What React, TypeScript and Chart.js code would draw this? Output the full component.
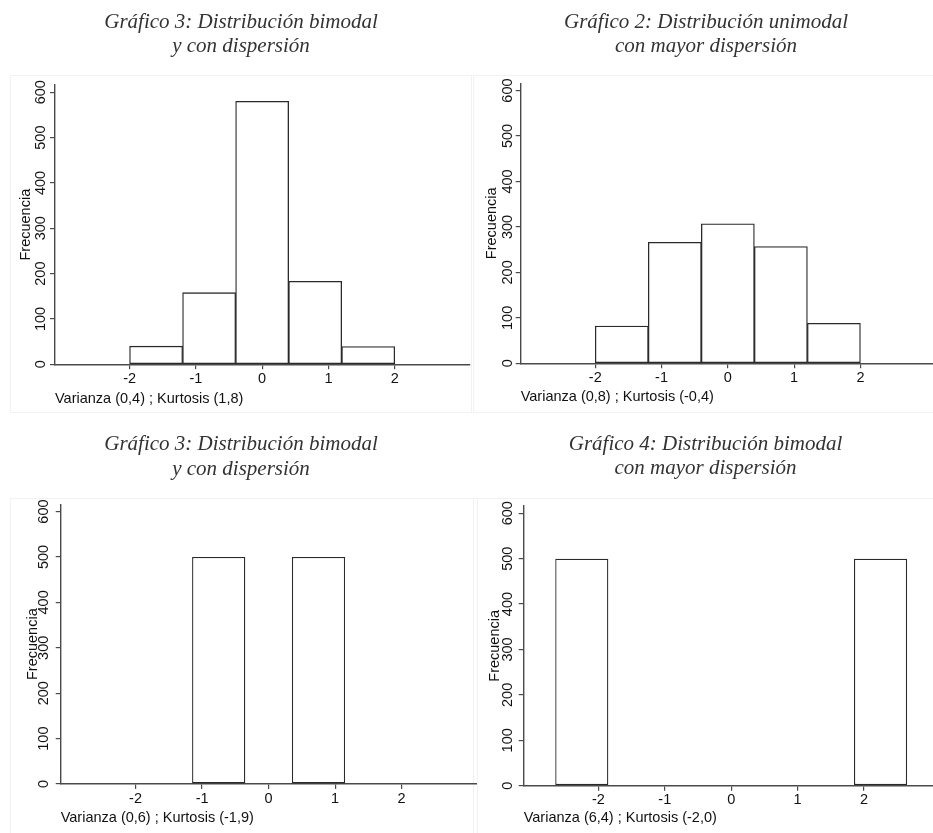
import React, { useEffect, useRef } from "react";
import { Chart, registerables } from "chart.js";
Chart.register(...registerables);

// ---------- data ----------
const X_TICKS = [-2, -1, 0, 1, 2];
const Y_TICKS = [0, 100, 200, 300, 400, 500, 600];
const BIN_WIDTH = 0.8;
const Y_LABEL = "Frecuencia";

const P1_TITLE = ["Gráfico 3: Distribución bimodal", "y con dispersión"];
const P1_CAPTION = "Varianza (0,4) ; Kurtosis (1,8)";
const P1_BINS = [-1.6, -0.8, 0, 0.8, 1.6];
const P1_FREQ = [40, 158, 580, 183, 39];

const P2_TITLE = ["Gráfico 2: Distribución unimodal", "con mayor dispersión"];
const P2_CAPTION = "Varianza (0,8) ; Kurtosis (-0,4)";
const P2_BINS = [-1.6, -0.8, 0, 0.8, 1.6];
const P2_FREQ = [82, 266, 307, 257, 88];

const P3_TITLE = ["Gráfico 3: Distribución bimodal", "y con dispersión"];
const P3_CAPTION = "Varianza (0,6) ; Kurtosis (-1,9)";
const P3_BINS = [-0.75, 0.75];
const P3_FREQ = [500, 500];

const P4_TITLE = ["Gráfico 4: Distribución bimodal", "con mayor dispersión"];
const P4_CAPTION = "Varianza (6,4) ; Kurtosis (-2,0)";
const P4_BINS = [-2.25, 2.25];
const P4_FREQ = [500, 500];

const X_MIN = -3.125;
const Y_MIN = 0;
const Y_MAX = 616;

// ---------- styles / layout ----------
const SANS = "'Liberation Sans', Arial, Helvetica, sans-serif";
const SERIF = "'Liberation Serif', 'Times New Roman', serif";
const AXIS_COLOR = "#4a4a4a";
const BAR_BORDER = "#2a2a2a";
const TEXT_COLOR = "#111";
const TITLE_COLOR = "#333";

type Layout = {
  left: number; top: number; width: number; height: number;
  padL: number; padR: number; yAxisW: number; xAxisH: number;
  titleTop: number; titleBottom: number; yTitlePad: number; yTickPad: number;
  xTitlePad: number; xTickPad: number; xMax: number;
};

const L1: Layout = { left: 0, top: 0, width: 475, height: 415, padL: 12.7, padR: 5.7, yAxisW: 42.3, xAxisH: 50.7,
  titleTop: 10.1, titleBottom: 26.6, yTitlePad: 4.9, yTickPad: -3, xTitlePad: 7, xTickPad: 1, xMax: 3.125 };
const L2: Layout = { left: 470, top: 0, width: 463, height: 415, padL: 9, padR: 0, yAxisW: 41.7, xAxisH: 51.7,
  titleTop: 10.1, titleBottom: 24.9, yTitlePad: 3.9, yTickPad: -4.3, xTitlePad: 9.5, xTickPad: 1, xMax: 3.095 };
const L3: Layout = { left: 0, top: 420, width: 477, height: 413, padL: 5.5, padR: 0.5, yAxisW: 55.2, xAxisH: 49,
  titleTop: 12.8, titleBottom: 23.2, yTitlePad: 18.4, yTickPad: -0.7, xTitlePad: 6, xTickPad: 1, xMax: 3.125 };
const L4: Layout = { left: 470, top: 420, width: 463, height: 413, padL: 8, padR: 0, yAxisW: 45.7, xAxisH: 47.3,
  titleTop: 12.5, titleBottom: 25.2, yTitlePad: 8.3, yTickPad: -1, xTitlePad: 5.9, xTickPad: 1, xMax: 3.04 };

const REGIONS = [
  { left: 10, top: 75, width: 462, height: 338 },
  { left: 473, top: 75, width: 470, height: 338 },
  { left: 10, top: 498, width: 468, height: 340 },
  { left: 473, top: 498, width: 470, height: 340 },
];

function barPercentage(bins: number[]) {
  const gaps = bins.slice(1).map((b, i) => b - bins[i]);
  const tickGap = X_TICKS[1] - X_TICKS[0];
  const spacing = Math.min(tickGap, ...gaps);
  return BIN_WIDTH / spacing;
}

function Panel(props: { title: string[]; caption: string; bins: number[]; freq: number[]; lay: Layout }) {
  const { title, caption, bins, freq, lay } = props;
  const ref = useRef<HTMLCanvasElement>(null);
  useEffect(() => {
    const tickFont = { family: SANS, size: 14.5, lineHeight: 1.2 };
    const chart = new Chart(ref.current as HTMLCanvasElement, {
      type: "bar",
      data: {
        datasets: [
          {
            data: bins.map((c, i) => ({ x: c, y: freq[i] })),
            backgroundColor: "#ffffff",
            borderColor: BAR_BORDER,
            borderWidth: 1.3,
            borderSkipped: false,
            barPercentage: barPercentage(bins),
            categoryPercentage: 1,
          } as any,
        ],
      },
      options: {
        animation: false,
        responsive: false,
        maintainAspectRatio: false,
        layout: { padding: { left: lay.padL, right: lay.padR, top: 0, bottom: 0 } },
        plugins: {
          legend: { display: false },
          tooltip: { enabled: false },
          title: {
            display: true,
            text: title,
            color: TITLE_COLOR,
            font: { family: SERIF, size: 21, style: "italic", weight: "normal", lineHeight: 1.15 },
            padding: { top: lay.titleTop, bottom: lay.titleBottom },
          },
        },
        scales: {
          x: {
            type: "linear",
            min: X_MIN,
            max: lay.xMax,
            offset: false,
            afterBuildTicks: (s: any) => { s.ticks = X_TICKS.map((v) => ({ value: v })); },
            afterFit: (s: any) => { s.height = lay.xAxisH; },
            grid: { display: true, drawOnChartArea: false, drawTicks: true, tickLength: 5, color: AXIS_COLOR, lineWidth: 1.2, offset: false },
            border: { display: true, color: AXIS_COLOR, width: 1.4 },
            ticks: { font: tickFont, color: TEXT_COLOR, padding: lay.xTickPad, autoSkip: false, maxRotation: 0, minRotation: 0, callback: (v: any) => String(v) },
            title: { display: true, text: caption, align: "start", color: TEXT_COLOR, font: tickFont, padding: { top: 0, bottom: lay.xTitlePad } },
          },
          y: {
            type: "linear",
            min: Y_MIN,
            max: Y_MAX,
            afterBuildTicks: (s: any) => { s.ticks = Y_TICKS.map((v) => ({ value: v })); },
            afterFit: (s: any) => { s.width = lay.yAxisW; },
            grid: { display: true, drawOnChartArea: false, drawTicks: true, tickLength: 5, color: AXIS_COLOR, lineWidth: 1.2 },
            border: { display: true, color: AXIS_COLOR, width: 1.4 },
            ticks: { font: tickFont, color: TEXT_COLOR, padding: lay.yTickPad, minRotation: 90, maxRotation: 90, crossAlign: "center", autoSkip: false, callback: (v: any) => String(v) },
            title: { display: true, text: Y_LABEL, color: TEXT_COLOR, font: tickFont, padding: { top: lay.yTitlePad, bottom: 0 } },
          },
        },
      } as any,
    });
    return () => chart.destroy();
  }, []);
  return (
    <canvas
      ref={ref}
      width={lay.width}
      height={lay.height}
      style={{ position: "absolute", left: lay.left, top: lay.top, width: lay.width, height: lay.height }}
    />
  );
}

export default function App() {
  return (
    <div style={{ position: "absolute", left: 0, top: 0, width: 933, height: 833, background: "#fff", overflow: "hidden" }}>
      {REGIONS.map((r, i) => (
        <div key={i} style={{ position: "absolute", left: r.left, top: r.top, width: r.width, height: r.height, border: "1px solid #f2f2f2", boxSizing: "border-box" }} />
      ))}
      <Panel title={P1_TITLE} caption={P1_CAPTION} bins={P1_BINS} freq={P1_FREQ} lay={L1} />
      <Panel title={P2_TITLE} caption={P2_CAPTION} bins={P2_BINS} freq={P2_FREQ} lay={L2} />
      <Panel title={P3_TITLE} caption={P3_CAPTION} bins={P3_BINS} freq={P3_FREQ} lay={L3} />
      <Panel title={P4_TITLE} caption={P4_CAPTION} bins={P4_BINS} freq={P4_FREQ} lay={L4} />
    </div>
  );
}
